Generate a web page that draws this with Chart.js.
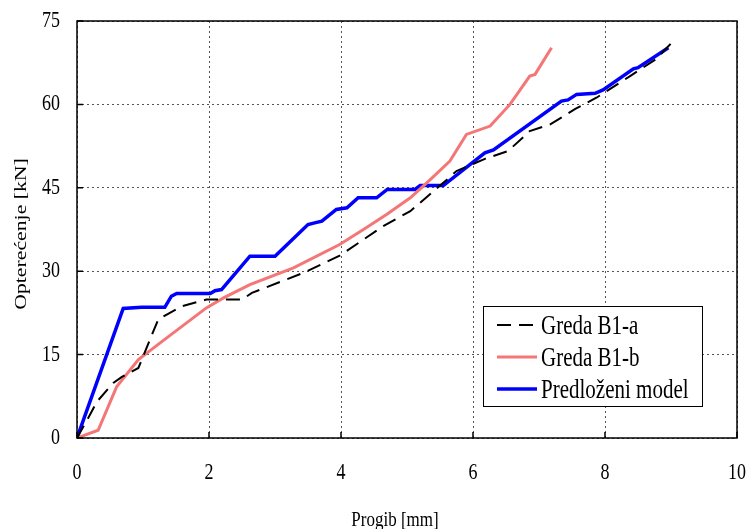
<!DOCTYPE html>
<html>
<head>
<meta charset="utf-8">
<script src="https://cdn.jsdelivr.net/npm/chart.js@4"></script>
<style>
  html, body { margin: 0; padding: 0; background: #fff; }
  canvas { display: block; }
</style>
</head>
<body>
<canvas id="chart" width="749" height="529"></canvas>
<script>
// ---------- DATA ----------
const xTicks = [0, 2, 4, 6, 8, 10];
const yTicks = [0, 15, 30, 45, 60, 75];

const xTitle = "Progib [mm]";
const yTitle = "Opterećenje [kN]";
const seriesNames = ["Greda B1-a", "Greda B1-b", "Predloženi model"];

const b1aX = [0, 0.17, 0.30, 0.55, 0.68, 0.93, 1.23, 1.36, 1.59, 1.96, 2.50, 2.65, 3.43, 3.98, 4.64, 5.05, 5.55, 5.75, 6.18, 6.53, 6.86, 7.17, 7.55, 7.87, 8.38, 8.78, 9.01];
const b1aY = [0, 3.6, 6.5, 9.9, 11.0, 12.6, 21.3, 22.2, 23.7, 24.9, 24.9, 26.1, 29.7, 32.8, 38.1, 40.8, 45.9, 48.0, 50.2, 51.6, 55.2, 56.4, 59.2, 61.2, 65.1, 68.2, 71.1];

const b1bX = [0, 0.32, 0.60, 0.93, 1.26, 1.56, 1.96, 2.22, 2.62, 3.28, 3.98, 4.34, 4.69, 5.05, 5.30, 5.65, 5.90, 6.26, 6.56, 6.86, 6.94, 7.19];
const b1bY = [0, 1.4, 9.2, 14.1, 17.1, 19.8, 23.4, 25.2, 27.6, 30.6, 34.8, 37.5, 40.2, 43.2, 45.9, 49.8, 54.6, 56.1, 60.0, 65.1, 65.4, 70.2];

const modelX = [0, 0.70, 0.98, 1.33, 1.43, 1.51, 2.02, 2.09, 2.19, 2.62, 3.00, 3.50, 3.60, 3.71, 3.93, 4.09, 4.26, 4.54, 4.70, 5.12, 5.20, 5.55, 6.18, 6.31, 7.34, 7.44, 7.57, 7.85, 7.97, 8.43, 8.50, 8.96];
const modelY = [0, 23.3, 23.5, 23.5, 25.5, 26.0, 26.0, 26.5, 26.7, 32.7, 32.7, 38.4, 38.7, 39.0, 41.1, 41.4, 43.2, 43.2, 44.7, 44.7, 45.4, 45.4, 51.3, 51.8, 60.6, 60.8, 61.8, 62.0, 62.6, 66.4, 66.6, 70.2];

// ---------- HELPERS ----------
const FONT = "'Liberation Serif', 'Times New Roman', serif";
const STRETCH = 1.28; // the original figure's text is drawn tall and narrow

function toPoints(xs, ys) {
  return xs.map((x, i) => ({ x, y: ys[i] }));
}

function drawText(ctx, text, x, y, size, align, rotated) {
  ctx.save();
  ctx.translate(x, y);
  if (rotated) {
    ctx.rotate(-Math.PI / 2);
    ctx.scale(STRETCH, 1);
  } else {
    ctx.scale(1, STRETCH);
  }
  ctx.font = size + "px " + FONT;
  ctx.fillStyle = "#000";
  ctx.textAlign = align;
  ctx.textBaseline = "middle";
  ctx.fillText(text, 0, 0);
  ctx.restore();
}

// frame, inward tick marks, labels and the boxed legend
const framePlugin = {
  id: "frame",
  afterDraw(chart) {
    const { ctx, chartArea: a, scales } = chart;
    ctx.save();
    ctx.strokeStyle = "#000";
    ctx.lineWidth = 1.5;
    ctx.setLineDash([]);
    ctx.beginPath();
    xTicks.forEach((t) => {
      const px = scales.x.getPixelForValue(t);
      ctx.moveTo(px, a.bottom);
      ctx.lineTo(px, a.bottom - 6);
    });
    yTicks.forEach((t) => {
      const py = scales.y.getPixelForValue(t);
      ctx.moveTo(a.left, py);
      ctx.lineTo(a.left + 6, py);
    });
    ctx.stroke();
    ctx.strokeRect(a.left, a.top, a.right - a.left, a.bottom - a.top);

    xTicks.forEach((t) => {
      drawText(ctx, String(t), scales.x.getPixelForValue(t), a.bottom + 35, 18, "center");
    });
    yTicks.forEach((t) => {
      drawText(ctx, String(t), a.left - 17, scales.y.getPixelForValue(t), 18, "right");
    });
    drawText(ctx, xTitle, 395, 520, 17, "center");
    drawText(ctx, yTitle, 22, 234, 17, "center", true);

    // legend
    const lx = 483, ly = 306, lw = 219, lh = 100;
    ctx.fillStyle = "#fff";
    ctx.fillRect(lx, ly, lw, lh);
    ctx.lineWidth = 1;
    ctx.strokeStyle = "#000";
    ctx.strokeRect(lx + 0.5, ly + 0.5, lw, lh);
    const rows = [325, 357, 389];
    chart.data.datasets.forEach((ds, i) => {
      ctx.beginPath();
      ctx.strokeStyle = ds.borderColor;
      ctx.lineWidth = ds.borderWidth;
      ctx.setLineDash(ds.borderDash || []);
      ctx.moveTo(497, rows[i]);
      ctx.lineTo(537, rows[i]);
      ctx.stroke();
      ctx.setLineDash([]);
      drawText(ctx, ds.label, 541, rows[i] + 2, 21, "left");
    });
    ctx.restore();
  },
};

new Chart(document.getElementById("chart").getContext("2d"), {
  type: "scatter",
  data: {
    datasets: [
      {
        label: seriesNames[0],
        data: toPoints(b1aX, b1aY),
        showLine: true,
        borderColor: "#000",
        borderWidth: 2,
        borderDash: [14, 8],
        pointRadius: 0,
      },
      {
        label: seriesNames[1],
        data: toPoints(b1bX, b1bY),
        showLine: true,
        borderColor: "rgb(245,118,118)",
        borderWidth: 3,
        pointRadius: 0,
      },
      {
        label: seriesNames[2],
        data: toPoints(modelX, modelY),
        showLine: true,
        borderColor: "#0000ff",
        borderWidth: 3.5,
        pointRadius: 0,
      },
    ],
  },
  options: {
    responsive: false,
    animation: false,
    devicePixelRatio: 1,
    layout: { padding: { left: 0, right: 12, top: 21, bottom: 0 } },
    plugins: {
      legend: { display: false },
      tooltip: { enabled: false },
    },
    scales: {
      x: {
        type: "linear",
        min: 0,
        max: 10,
        afterBuildTicks: (s) => { s.ticks = xTicks.map((v) => ({ value: v })); },
        afterFit: (s) => {
          s.height = 91;
          s.paddingLeft = s.paddingRight = 0;
        },
        grid: { color: "#555", lineWidth: 1, drawTicks: false },
        border: { display: false, dash: [2, 3] },
        ticks: { display: false },
      },
      y: {
        type: "linear",
        min: 0,
        max: 75,
        afterBuildTicks: (s) => { s.ticks = yTicks.map((v) => ({ value: v })); },
        afterFit: (s) => {
          s.width = 77;
          s.paddingTop = s.paddingBottom = 0;
        },
        grid: { color: "#555", lineWidth: 1, drawTicks: false },
        border: { display: false, dash: [2, 3] },
        ticks: { display: false },
      },
    },
  },
  plugins: [framePlugin],
});
</script>
</body>
</html>
